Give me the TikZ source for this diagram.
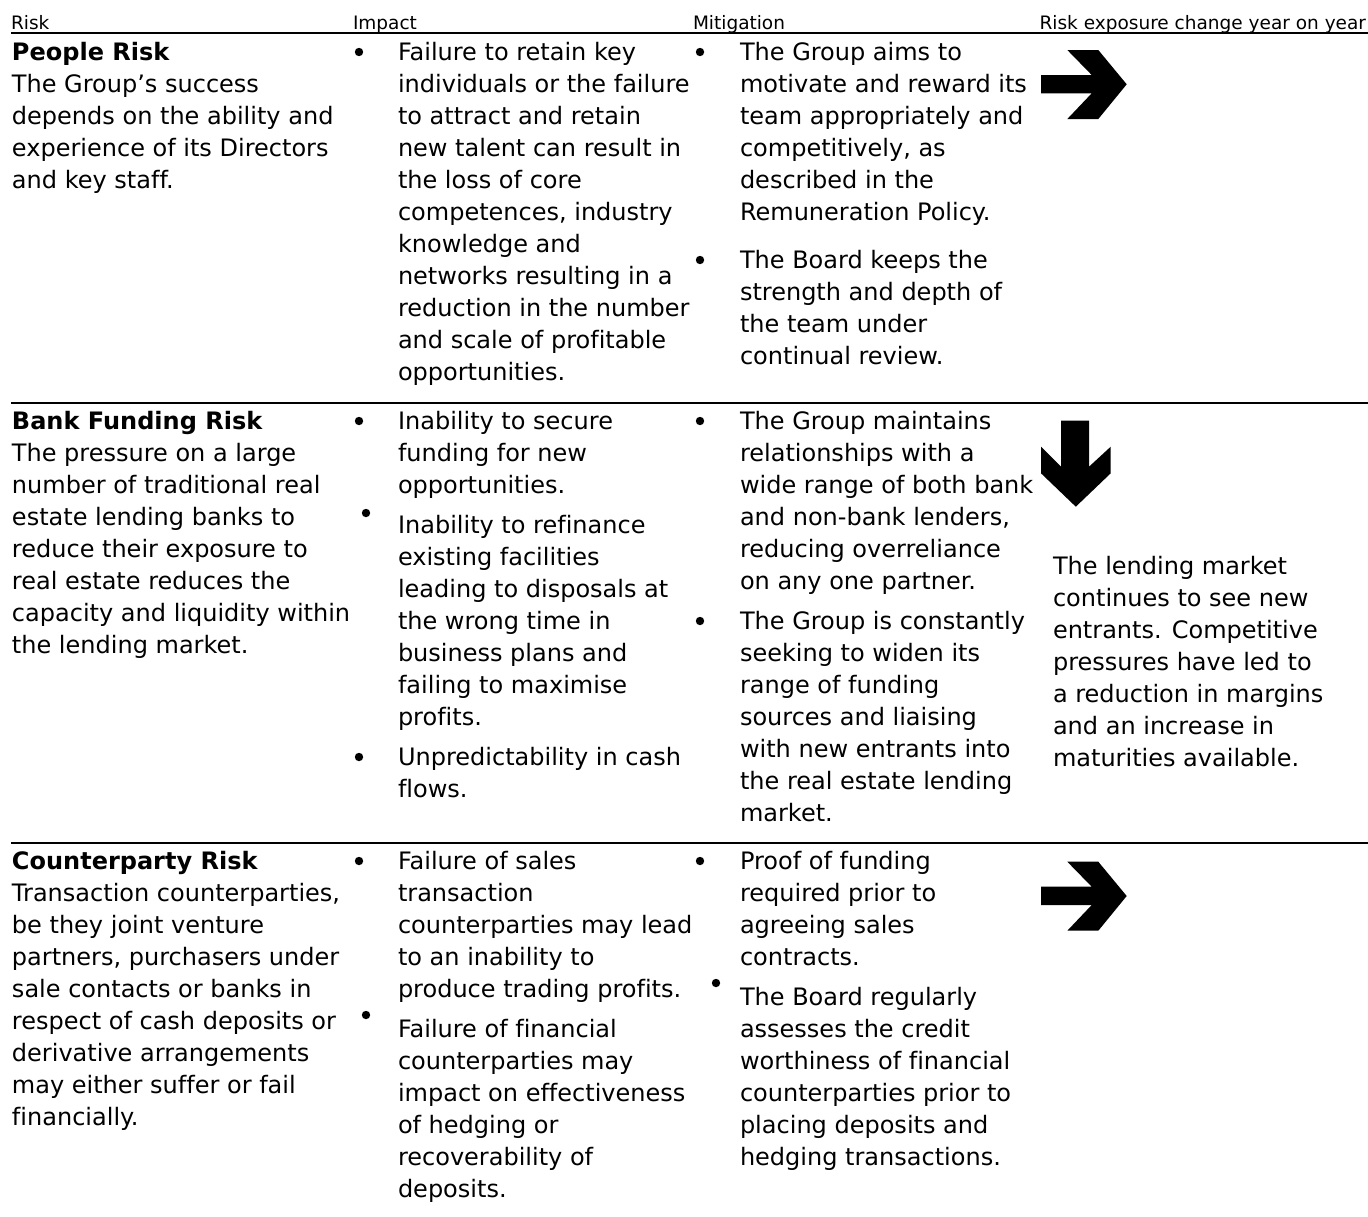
\documentclass[tikz,border=0pt]{standalone}
\usepackage{fontspec}
\setmainfont[Ligatures=NoCommon]{DejaVu Sans}
\newcommand{\txtlines}[1]{\begin{tabular}[t]{@{}l@{}}#1\end{tabular}}
\tikzset{
  txt/.style={anchor=base west, inner sep=0pt, outer sep=0pt, font=\fontsize{24}{32}\selectfont},
  hdr/.style={anchor=base west, inner sep=0pt, outer sep=0pt, font=\fontsize{18.5}{22}\selectfont},
  rowrule/.style={line width=2pt},
  bul/.style={fill=black},
  bigarrow/.style={fill=black}
}
\begin{document}
\begin{tikzpicture}[x=1pt,y=-1pt]
\useasboundingbox (0,0) rectangle (1368,1216);
% header
\node[hdr] (hrisk) at (11,29) {Risk};
\node[hdr] (himpact) at (353,29) {Impact};
\node[hdr] (hmit) at (693,29) {Mitigation};
\node[hdr, anchor=base east] (hexp) at (1366,29) {Risk exposure change year on year};
\draw[rowrule] (11,33.3) -- (1368,33.3);
\draw[rowrule] (11,402.7) -- (1368,402.7);
\draw[rowrule] (11,842.7) -- (1368,842.7);

% ---------- Row 1
\node[txt] (r1risk) at (12,60) {\txtlines{\textbf{People Risk}\\The Group’s success\\depends on the ability and\\experience of its Directors\\and key staff.}};
\fill[bul] (359,52) circle (4.2);
\node[txt] (r1imp) at (398,60) {\txtlines{Failure to retain key\\individuals or the failure\\to attract and retain\\new talent can result in\\the loss of core\\competences, industry\\knowledge and\\networks resulting in a\\reduction in the number\\and scale of profitable\\opportunities.}};
\fill[bul] (700,52) circle (4.2);
\node[txt] (r1mita) at (740,60) {\txtlines{The Group aims to\\motivate and reward its\\team appropriately and\\competitively, as\\described in the\\Remuneration Policy.}};
\fill[bul] (700,260) circle (4.2);
\node[txt] (r1mitb) at (740,268) {\txtlines{The Board keeps the\\strength and depth of\\the team under\\continual review.}};
\fill[bigarrow] (1041,75) -- (1091.7,75) -- (1067.3,50) -- (1098.3,50) -- (1126.7,84.3) -- (1098.3,119) -- (1067.3,119) -- (1091.7,93.3) -- (1041,93.3) -- cycle;

% ---------- Row 2
\node[txt] (r2risk) at (12,429) {\txtlines{\textbf{Bank Funding Risk}\\The pressure on a large\\number of traditional real\\estate lending banks to\\reduce their exposure to\\real estate reduces the\\capacity and liquidity within\\the lending market.}};
\fill[bul] (359,421) circle (4.2);
\node[txt] (r2impa) at (398,429) {\txtlines{Inability to secure\\funding for new\\opportunities.}};
\fill[bul] (366,513) circle (4.2);
\node[txt] (r2impb) at (398,533) {\txtlines{Inability to refinance\\existing facilities\\leading to disposals at\\the wrong time in\\business plans and\\failing to maximise\\profits.}};
\fill[bul] (359,757) circle (4.2);
\node[txt] (r2impc) at (398,765) {\txtlines{Unpredictability in cash\\flows.}};
\fill[bul] (700,421) circle (4.2);
\node[txt] (r2mita) at (740,429) {\txtlines{The Group maintains\\relationships with a\\wide range of both bank\\and non-bank lenders,\\reducing overreliance\\on any one partner.}};
\fill[bul] (700,621) circle (4.2);
\node[txt] (r2mitb) at (740,629) {\txtlines{The Group is constantly\\seeking to widen its\\range of funding\\sources and liaising\\with new entrants into\\the real estate lending\\market.}};
\fill[bigarrow] (1061,420.7) -- (1089,420.7) -- (1089,466.7) -- (1110.7,446.7) -- (1110.7,473.3) -- (1075.8,506.7) -- (1041,473.3) -- (1041,446.7) -- (1061,466.7) -- cycle;
\node[txt] (r2exp) at (1053,574) {\txtlines{The lending market\\continues to see new\\entrants. Competitive\\pressures have led to\\a reduction in margins\\and an increase in\\maturities available.}};

% ---------- Row 3
\node[txt] (r3risk) at (12,869) {\txtlines{\textbf{Counterparty Risk}\\Transaction counterparties,\\be they joint venture\\partners, purchasers under\\sale contacts or banks in\\respect of cash deposits or\\derivative arrangements\\may either suffer or fail\\financially.}};
\fill[bul] (359,861) circle (4.2);
\node[txt] (r3impa) at (398,869) {\txtlines{Failure of sales\\transaction\\counterparties may lead\\to an inability to\\produce trading profits.}};
\fill[bul] (366,1015) circle (4.2);
\node[txt] (r3impb) at (398,1037) {\txtlines{Failure of financial\\counterparties may\\impact on effectiveness\\of hedging or\\recoverability of\\deposits.}};
\fill[bul] (700,861) circle (4.2);
\node[txt] (r3mita) at (740,869) {\txtlines{Proof of funding\\required prior to\\agreeing sales\\contracts.}};
\fill[bul] (716,983) circle (4.2);
\node[txt] (r3mitb) at (740,1005) {\txtlines{The Board regularly\\assesses the credit\\worthiness of financial\\counterparties prior to\\placing deposits and\\hedging transactions.}};
\fill[bigarrow] (1041,886.7) -- (1091.7,886.7) -- (1067.3,861.7) -- (1098.3,861.7) -- (1126.7,896) -- (1098.3,930.7) -- (1067.3,930.7) -- (1091.7,905) -- (1041,905) -- cycle;
\end{tikzpicture}
\end{document}
